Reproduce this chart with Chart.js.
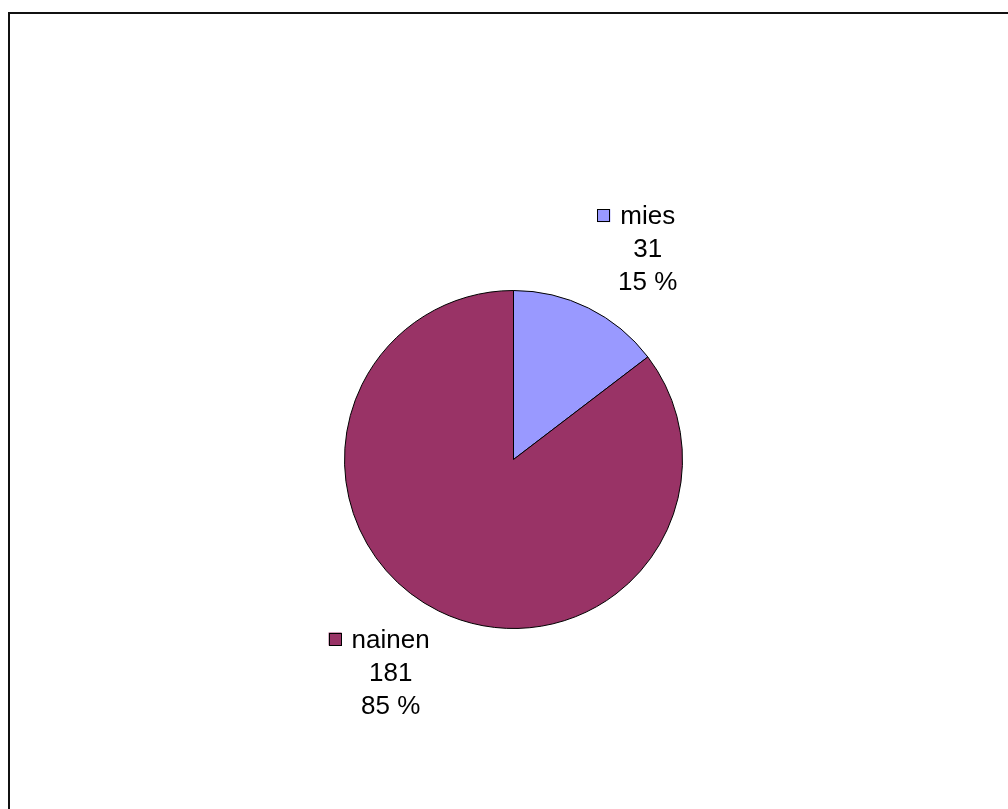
<!doctype html>
<html lang="fi">
<head>
	<meta charset="utf-8">
	<title>mies / nainen</title>
	<script src="https://cdn.jsdelivr.net/npm/chart.js"></script>
	<style>
		html, body { margin: 0; padding: 0; background: #fff; }
		#wrap { width: 1008px; height: 809px; }
	</style>
</head>
<body>
	<div id="wrap"><canvas id="myChart" width="1008" height="809"></canvas></div>

	<script>
		// sukupuolijakauma
		const labels = ['mies', 'nainen'];
		const counts = [31, 181];
		const colors = ['#9999FF', '#993366'];

		const fontSize = 26;
		const lineGap = 33;
		const keySize = 13;
		const keyGap = 10;

		// valkoinen tausta ja kehys
		const framePlugin = {
			id: 'frame',
			beforeDraw(chart) {
				const ctx = chart.ctx;
				ctx.save();
				ctx.fillStyle = '#fff';
				ctx.fillRect(0, 0, chart.width, chart.height);
				ctx.strokeStyle = '#111';
				ctx.lineWidth = 2;
				ctx.beginPath();
				ctx.moveTo(9, chart.height + 5);
				ctx.lineTo(9, 13);
				ctx.lineTo(chart.width + 5, 13);
				ctx.stroke();
				ctx.restore();
			}
		};

		// selitteet sektorien ulkopuolelle: tunnusneliö, nimi, lukumäärä, prosentti
		const outsideLabels = {
			id: 'outsideLabels',
			afterDraw(chart) {
				const ctx = chart.ctx;
				const meta = chart.getDatasetMeta(0);
				const total = counts.reduce((a, b) => a + b, 0);
				ctx.save();
				ctx.font = fontSize + 'px "Liberation Sans", Arial, sans-serif';
				ctx.fillStyle = '#000';
				ctx.textBaseline = 'alphabetic';
				ctx.textAlign = 'center';
				const capH = fontSize * 0.716;

				meta.data.forEach((arc, i) => {
					const p = arc.getProps(['x', 'y', 'startAngle', 'endAngle', 'outerRadius'], true);
					const mid = (p.startAngle + p.endAngle) / 2;
					const ux = Math.cos(mid), uy = Math.sin(mid);
					const ax = p.x + (p.outerRadius + 20) * ux;
					const ay = p.y + (p.outerRadius + 20) * uy;

					const lines = [labels[i], String(counts[i]), Math.round(counts[i] / total * 100) + ' %'];
					const widths = lines.map(t => ctx.measureText(t).width);
					const maxW = Math.max(...widths);
					const leftExt = Math.max(widths[0] / 2 + keySize + keyGap, maxW / 2);
					const rightExt = maxW / 2;
					const boxW = leftExt + rightExt;
					const boxH = capH + lineGap * 2;

					const boxLeft = ux >= 0 ? ax : ax - boxW;
					const boxTop = uy >= 0 ? ay : ay - boxH;
					const tc = boxLeft + leftExt;
					const base = boxTop + capH;

					lines.forEach((t, k) => ctx.fillText(t, tc, base + k * lineGap));

					// tunnusneliö
					const kx = tc - widths[0] / 2 - keyGap - keySize;
					const ky = base - 2 - keySize;
					ctx.fillStyle = colors[i];
					ctx.fillRect(kx, ky, keySize, keySize);
					ctx.strokeStyle = '#000';
					ctx.lineWidth = 1;
					ctx.strokeRect(Math.round(kx) + 0.5, Math.round(ky) + 0.5, keySize - 1, keySize - 1);
					ctx.fillStyle = '#000';
				});
				ctx.restore();
			}
		};

		const ctx = document.getElementById('myChart').getContext('2d');
		const myChart = new Chart(ctx, {
			type: 'pie',
			data: {
				labels: labels,
				datasets: [{
					data: counts,
					backgroundColor: colors,
					borderColor: '#000',
					borderWidth: 1
				}]
			},
			options: {
				responsive: false,
				animation: false,
				layout: {
					padding: { left: 344, right: 325, top: 290, bottom: 180 }
				},
				plugins: {
					legend: { display: false },
					tooltip: { enabled: false }
				}
			},
			plugins: [framePlugin, outsideLabels]
		});
	</script>
</body>
</html>
